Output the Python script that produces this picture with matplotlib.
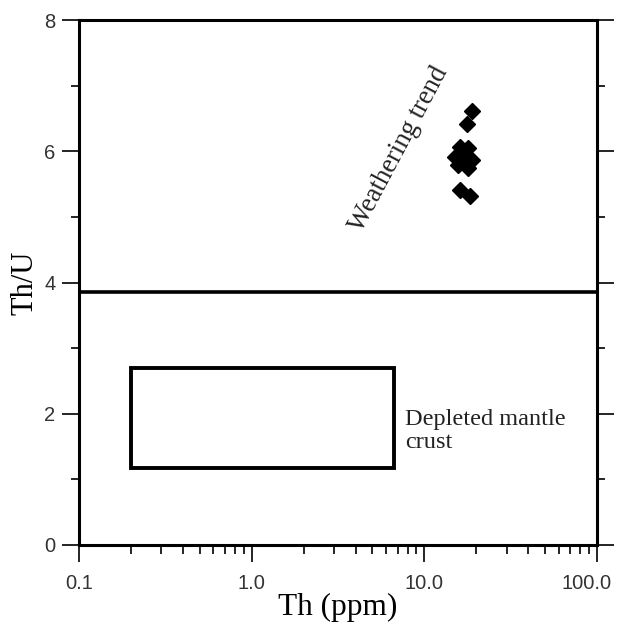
import matplotlib
matplotlib.use("Agg")
import matplotlib.pyplot as plt
import matplotlib.transforms as mtransforms
from matplotlib.patches import Rectangle
from matplotlib.ticker import FixedLocator, LogLocator, NullFormatter

# sample data
th_ppm = [18.9, 17.7, 16.1, 17.9, 15.0, 17.1, 18.9, 15.7, 17.9, 16.1, 18.3]
th_u = [6.62, 6.42, 6.07, 6.05, 5.91, 5.91, 5.87, 5.79, 5.75, 5.41, 5.32]

# depleted mantle crust field (Th range, Th/U range)
dm_th = [0.2, 6.7]
dm_thu = [1.17, 2.69]

# weathering threshold
thu_line = 3.85

x_ticks = [0.1, 1.0, 10.0, 100.0]
x_labels = ["0.1", "1.0", "10.0", "100.0"]
y_ticks = [0, 2, 4, 6, 8]

serif = ["Liberation Serif", "DejaVu Serif"]
plt.rcParams["font.family"] = ["Liberation Sans", "DejaVu Sans"]


def main():
    fig = plt.figure(figsize=(6.17, 6.25), dpi=100)
    ax = fig.add_axes([0.128, 0.128, 0.8396, 0.84])

    ax.set_xscale("log")
    ax.set_xlim(0.1, 100)
    ax.set_ylim(0, 8)

    # data
    ax.plot(th_ppm, th_u, linestyle="none", marker="D", ms=8.3,
            color="black", zorder=3)

    # horizontal line
    ax.axhline(thu_line, color="black", lw=2.6)

    # box
    ax.add_patch(Rectangle((dm_th[0], dm_thu[0]), dm_th[1] - dm_th[0],
                           dm_thu[1] - dm_thu[0], fill=False,
                           edgecolor="black", lw=2.8))
    ax.text(7.7, 1.74, "Depleted mantle\ncrust", family=serif, fontsize=17.5,
            color="#222222", va="center", ha="left", linespacing=1.1)

    ax.text(7.1, 6.03, "Weathering trend", family=serif, fontsize=19.2,
            color="#222222", rotation=62, ha="center", va="center",
            rotation_mode="anchor")

    # ticks
    ax.set_xticks(x_ticks)
    ax.set_xticklabels(x_labels)
    ax.xaxis.set_minor_locator(LogLocator(base=10, subs=range(2, 10)))
    ax.xaxis.set_minor_formatter(NullFormatter())
    ax.set_yticks(y_ticks)
    ax.yaxis.set_minor_locator(FixedLocator([1, 3, 5, 7]))

    ax.tick_params(axis="x", which="major", direction="out", length=12,
                   width=1.2, labelsize=14.5, pad=9, labelcolor="#333333")
    ax.tick_params(axis="x", which="minor", direction="out", length=6.5,
                   width=1.2)
    ax.tick_params(axis="y", which="major", direction="out", length=12,
                   width=1.2, labelsize=14.5, right=True, pad=5,
                   labelcolor="#333333")
    ax.tick_params(axis="y", which="minor", direction="out", length=6,
                   width=1.2, right=True)

    # last x label sits a little left in the reference so it fits
    last = ax.get_xticklabels()[-1]
    last.set_transform(last.get_transform() +
                       mtransforms.ScaledTranslation(-0.1, 0, fig.dpi_scale_trans))

    for s in ax.spines.values():
        s.set_linewidth(2.2)

    ax.set_xlabel("Th (ppm)", family=serif, fontsize=22.5, labelpad=0)
    ax.set_ylabel("Th/U", family=serif, fontsize=22, labelpad=3)

    fig.savefig("out.png", dpi=100)


if __name__ == "__main__":
    main()
